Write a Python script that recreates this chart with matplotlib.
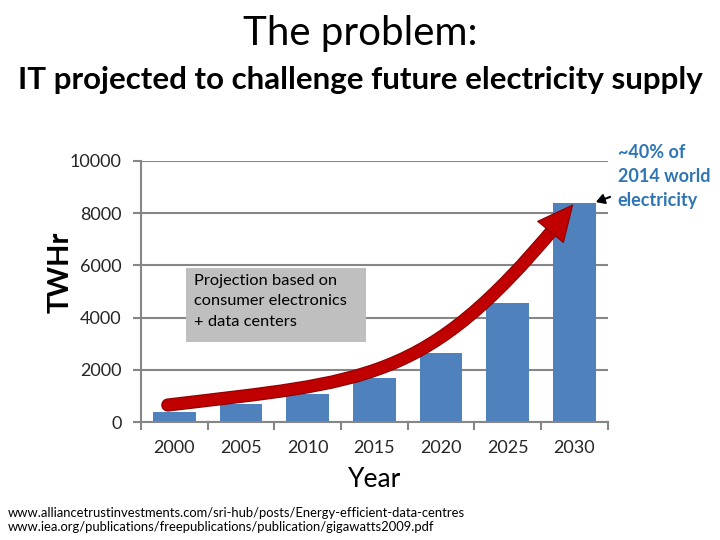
import numpy as np
import matplotlib.pyplot as plt
from matplotlib.patches import FancyArrowPatch, Rectangle, PathPatch
from matplotlib.path import Path

# data
years = ["2000", "2005", "2010", "2015", "2020", "2025", "2030"]
twh = [380, 690, 1070, 1690, 2640, 4560, 8390]
yticks = [0, 2000, 4000, 6000, 8000, 10000]

plt.rcParams['font.family'] = ['Lato', 'DejaVu Sans']

fig = plt.figure(figsize=(7.2, 5.4), dpi=100)
ax = fig.add_axes([0.196, 0.2185, 0.648, 0.4835])

x = np.arange(len(years))
ax.bar(x, twh, width=0.64, color="#4F81BD", zorder=2)

ax.set_xlim(-0.5, len(years) - 0.5)
ax.set_ylim(0, 10000)
ax.set_yticks(yticks)
ax.set_yticklabels([str(v) for v in yticks], fontsize=13, color="#262626")
ax.set_xticks(x)
ax.set_xticklabels(years, fontsize=13, color="#262626")
ax.set_xticks(np.arange(len(years) + 1) - 0.5, minor=True)
ax.tick_params(axis="x", which="major", length=0, pad=13)
ax.tick_params(axis="x", which="minor", length=6, width=1.5, color="#868686", direction="out")
ax.tick_params(axis="y", length=6, width=1.5, color="#868686", pad=8)
ax.grid(axis="y", color="#868686", linewidth=1.5, zorder=0)
for s in ["top", "right"]:
    ax.spines[s].set_visible(False)
for s in ["left", "bottom"]:
    ax.spines[s].set_color("#868686")
    ax.spines[s].set_linewidth(1.5)

ax.set_xlabel("Year", fontsize=19, labelpad=8)
fig.text(0.0847, 0.4963, "TWHr", fontsize=21, fontweight="bold", rotation=90,
         ha="center", va="center")

# big red arrow: curved body + head
body = Path([(-0.1, 650), (2.9, 1570), (3.76, 1490), (5.736, 7548)],
            [Path.MOVETO, Path.CURVE4, Path.CURVE4, Path.CURVE4])
ax.add_patch(PathPatch(body, fill=False, edgecolor="#8B0000", linewidth=9.5,
                       capstyle="round", zorder=4))
ax.add_patch(PathPatch(body, fill=False, edgecolor="#C00000", linewidth=8,
                       capstyle="round", zorder=4))
ax.add_patch(FancyArrowPatch((5.62, 7211), (6.0, twh[-1]),
                             arrowstyle="simple,head_width=24,head_length=25,tail_width=6",
                             mutation_scale=1, facecolor="#C00000", edgecolor="#8B0000",
                             linewidth=0.8, zorder=5))

# projection text box
fig.add_artist(Rectangle((0.258, 0.3667), 0.251, 0.137, transform=fig.transFigure,
                         facecolor="#BFBFBF", edgecolor="none", zorder=5))
fig.text(0.269, 0.4935, "Projection based on\nconsumer electronics\n+ data centers",
         fontsize=11.8, va="top", ha="left", linespacing=1.6, zorder=6)

# side note
fig.text(0.858, 0.733, "~40% of\n2014 world\nelectricity", fontsize=13, fontweight="bold",
         color="#2E75B6", ha="left", va="top", linespacing=1.5)
fig.add_artist(FancyArrowPatch((0.851, 0.637), (0.824, 0.624), transform=fig.transFigure,
                               arrowstyle="-|>,head_width=3,head_length=5", mutation_scale=1,
                               color="black", linewidth=1.5))

fig.text(0.5, 0.938, "The problem:", fontsize=29, ha="center", va="center")
fig.text(0.5, 0.851, "IT projected to challenge future electricity supply", fontsize=22.5,
         fontweight="bold", ha="center", va="center")

fig.text(0.011, 0.037, "www.alliancetrustinvestments.com/sri-hub/posts/Energy-efficient-data-centres\n"
         "www.iea.org/publications/freepublications/publication/gigawatts2009.pdf",
         fontsize=9.4, ha="left", va="center", linespacing=1.2)

fig.savefig("out.png", dpi=100)
